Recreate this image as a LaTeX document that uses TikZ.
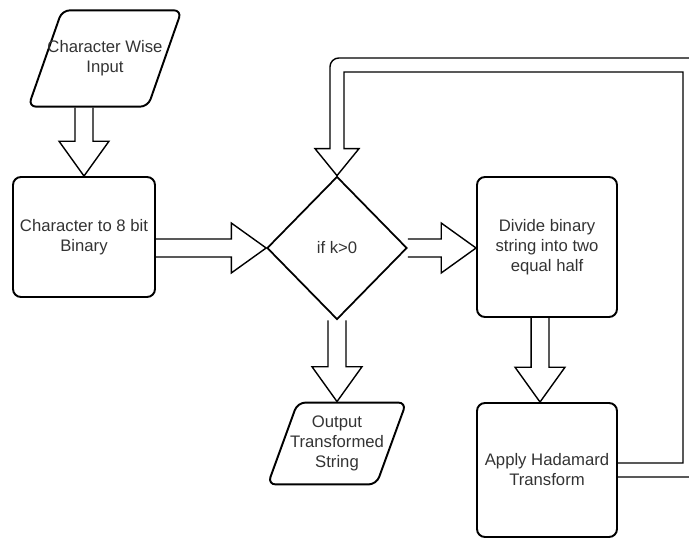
\documentclass[tikz,border=0pt]{standalone}
\usepackage{fontspec}
\setmainfont{Liberation Sans}
\usetikzlibrary{shapes.geometric,calc}

\definecolor{inkgray}{HTML}{333333}

% misure delle frecce a blocco
\def\shaftw{5.1pt}
\def\headw{14.2pt}
\def\headl{19.8pt}

% freccia a blocco dritta da #1 a #2
\newcommand{\fatarrow}[2]{%
  \draw[fat] let \p1=(#1), \p2=(#2),
      \n1={atan2(\y2-\y1,\x2-\x1)}, \n2={veclen(\x2-\x1,\y2-\y1)} in
    [shift={(\p1)}, rotate=\n1]
    (0pt,\shaftw) -- ({\n2-\headl},\shaftw) -- ({\n2-\headl},\headw)
    -- ({\n2*1pt},0pt) -- ({\n2-\headl},-\headw) -- ({\n2-\headl},-\shaftw)
    -- (0pt,-\shaftw);
}

\begin{document}
\begin{tikzpicture}[x=0.02cm, y=-0.02cm,
  every node/.style={font=\fontsize{9.5}{11.4}\selectfont, text=inkgray, align=center},
  box/.style={draw, line width=1.1pt, rounded corners=4.5pt, minimum width=2.8cm, minimum height=2.8cm},
  io/.style={draw, line width=1.1pt, trapezium, trapezium left angle=#1, trapezium right angle=180-#1,
    rounded corners=4.5pt},
  decision/.style={draw, line width=1pt, diamond, minimum width=2.8cm, minimum height=2.86cm},
  fat/.style={draw, line width=0.8pt, line join=miter}]

\useasboundingbox (0,0) rectangle (689,540);

% Nodi del diagramma
\node[io=70.7, inner xsep=-8.3pt, inner ysep=17.3pt] (input) at (105,58.5) {Character Wise\\Input};
\node[box, minimum width=2.84cm, minimum height=2.4cm] (bits) at (84,237) {Character to 8 bit\\Binary};
\node[decision] (check) at (337,248) {if k>0};
\node[box] (divide) at (547,247) {Divide binary\\string into two\\equal half};
\node[box, minimum height=2.68cm] (hadamard) at (547,470) {Apply Hadamard\\Transform};
\node[io=70, inner xsep=-4.3pt, inner ysep=7.6pt] (output) at (337,443.5) {Output\\Transformed\\String};

% Frecce a blocco
\fatarrow{input.south -| bits.north}{bits.north}
\fatarrow{bits.east |- check.west}{check.west}
\fatarrow{check.east}{check.east -| divide.west}
\fatarrow{$(divide.south)+(-7,0)$}{$(hadamard.north)+(-7,0)$}
\fatarrow{check.south}{check.south |- output.north}

% Ritorno da hadamard a check
\coordinate (back) at (690,65);
\draw[fat] ($(hadamard.east)+(0,-7)$) -- ($(back |- hadamard.east)+(-7,-7)$)
  -- ($(back)+(-7,7)$) -- ($(back -| check.north)+(7,7)$)
  -- ($(check.north)+(7,-27)$) -- ($(check.north)+(22,-27)$) -- (check.north)
  -- ($(check.north)+(-22,-27)$) -- ($(check.north)+(-7,-27)$)
  [rounded corners=5pt] -- ($(back -| check.north)+(-7,-7)$)
  [sharp corners] -- ($(back)+(7,-7)$) -- ($(back |- hadamard.east)+(7,7)$)
  -- ($(hadamard.east)+(0,7)$);

\end{tikzpicture}
\end{document}
